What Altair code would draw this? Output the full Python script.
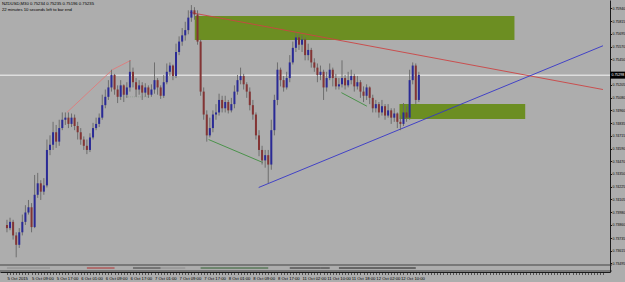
import altair as alt
import pandas as pd

# ---------------- data ----------------
header_lines = ["NZDUSD,M30  0.75234 0.75235 0.75196 0.75235",
                "22 minutes 10 seconds left to bar end"]

time_labels = ["5 Oct 2015", "5 Oct 09:00", "5 Oct 17:00", "6 Oct 01:00", "6 Oct 09:00",
               "6 Oct 17:00", "7 Oct 01:00", "7 Oct 09:00", "7 Oct 17:00", "8 Oct 01:00",
               "8 Oct 09:00", "8 Oct 17:00", "11 Oct 02:00", "11 Oct 10:00", "11 Oct 18:00",
               "12 Oct 02:00", "12 Oct 10:00"]
bars_per_label = 8

# the label under the current-price box is hidden in the reference
price_ticks = [0.73495, 0.73615, 0.73735, 0.73860, 0.73980, 0.74105, 0.74225, 0.74350,
               0.74470, 0.74590, 0.74715, 0.74835, 0.74960, 0.75080, 0.75205,
               0.75450, 0.75570, 0.75695, 0.75815, 0.75940]

current_price = 0.75298
current_label = "0.75298"

first_open = 0.7386
closes = [
    0.7383, 0.7389, 0.7376, 0.7367, 0.7379, 0.7389, 0.7398, 0.7403, 0.7384, 0.7415,
    0.7426, 0.7418, 0.7424, 0.7458, 0.7463, 0.7475, 0.7466, 0.7479, 0.7487, 0.7489,
    0.7483, 0.7489, 0.7481, 0.7475, 0.7468, 0.7462, 0.7458, 0.7470, 0.7479, 0.7483,
    0.7489, 0.7501, 0.7509, 0.7518, 0.7530, 0.7516, 0.7509, 0.7520, 0.7511, 0.7518,
    0.7533, 0.7523, 0.7516, 0.7520, 0.7513, 0.7518, 0.7511, 0.7516, 0.7525, 0.7518,
    0.7510, 0.7523, 0.7533, 0.7539, 0.7529, 0.7552, 0.7562, 0.7568, 0.7573, 0.7585,
    0.7592, 0.7588, 0.7562, 0.7514, 0.7492, 0.7472, 0.7479, 0.7492, 0.7494, 0.7506,
    0.7498, 0.7504, 0.7496, 0.7502, 0.7514, 0.7525, 0.7529, 0.7521, 0.7514, 0.7501,
    0.7492, 0.7472, 0.7458, 0.7448, 0.7453, 0.7444, 0.7477, 0.7506, 0.7535, 0.7525,
    0.7518, 0.7527, 0.7542, 0.7556, 0.7566, 0.7559, 0.7564, 0.7549, 0.7554, 0.7542,
    0.7537, 0.7530, 0.7533, 0.7518, 0.7527, 0.7535, 0.7527, 0.7519, 0.7521, 0.7527,
    0.7520, 0.7525, 0.7529, 0.7519, 0.7523, 0.7514, 0.7510, 0.7518, 0.7508, 0.7498,
    0.7502, 0.7494, 0.7500, 0.7491, 0.7496, 0.7489, 0.7493, 0.7485, 0.7483, 0.7494,
    0.7489, 0.7525, 0.7539, 0.7506, 0.7530]
highs = [
    0.7391, 0.7393, 0.7391, 0.7379, 0.7383, 0.7396, 0.7405, 0.7410, 0.7407, 0.7434,
    0.7436, 0.7429, 0.7431, 0.7468, 0.7472, 0.7485, 0.7482, 0.7487, 0.7494, 0.7494,
    0.7494, 0.7493, 0.7492, 0.7485, 0.7479, 0.7471, 0.7468, 0.7474, 0.7484, 0.7489,
    0.7493, 0.7511, 0.7516, 0.7525, 0.7535, 0.7531, 0.7520, 0.7525, 0.7521, 0.7523,
    0.7544, 0.7537, 0.7527, 0.7525, 0.7523, 0.7522, 0.7520, 0.7521, 0.7542, 0.7527,
    0.7520, 0.7530, 0.7541, 0.7542, 0.7540, 0.7560, 0.7567, 0.7575, 0.7581, 0.7592,
    0.7597, 0.7595, 0.7592, 0.7564, 0.7518, 0.7496, 0.7489, 0.7496, 0.7502, 0.7512,
    0.7510, 0.7510, 0.7506, 0.7508, 0.7520, 0.7530, 0.7537, 0.7531, 0.7523, 0.7518,
    0.7506, 0.7494, 0.7477, 0.7462, 0.7458, 0.7458, 0.7487, 0.7511, 0.7542, 0.7537,
    0.7529, 0.7533, 0.7549, 0.7562, 0.7570, 0.7569, 0.7568, 0.7566, 0.7560, 0.7556,
    0.7546, 0.7541, 0.7539, 0.7535, 0.7533, 0.7541, 0.7537, 0.7531, 0.7527, 0.7544,
    0.7530, 0.7533, 0.7535, 0.7531, 0.7529, 0.7525, 0.7519, 0.7521, 0.7519, 0.7511,
    0.7506, 0.7504, 0.7506, 0.7502, 0.7502, 0.7498, 0.7498, 0.7494, 0.7491, 0.7503,
    0.7500, 0.7535, 0.7542, 0.7541, 0.7533]
lows = [
    0.7379, 0.7381, 0.7372, 0.7355, 0.7364, 0.7376, 0.7386, 0.7396, 0.7379, 0.7383,
    0.7412, 0.7410, 0.7415, 0.7422, 0.7453, 0.7458, 0.7460, 0.7462, 0.7477, 0.7482,
    0.7479, 0.7480, 0.7477, 0.7468, 0.7463, 0.7458, 0.7454, 0.7456, 0.7468, 0.7477,
    0.7480, 0.7487, 0.7498, 0.7506, 0.7514, 0.7511, 0.7503, 0.7506, 0.7504, 0.7508,
    0.7514, 0.7518, 0.7509, 0.7511, 0.7506, 0.7509, 0.7508, 0.7509, 0.7512, 0.7511,
    0.7507, 0.7508, 0.7521, 0.7529, 0.7525, 0.7527, 0.7549, 0.7558, 0.7563, 0.7569,
    0.7581, 0.7583, 0.7559, 0.7510, 0.7487, 0.7466, 0.7470, 0.7475, 0.7487, 0.7491,
    0.7494, 0.7494, 0.7493, 0.7494, 0.7498, 0.7511, 0.7521, 0.7516, 0.7508, 0.7496,
    0.7487, 0.7468, 0.7452, 0.7444, 0.7441, 0.7426, 0.7439, 0.7472, 0.7501, 0.7519,
    0.7514, 0.7516, 0.7523, 0.7540, 0.7552, 0.7554, 0.7552, 0.7544, 0.7544, 0.7537,
    0.7533, 0.7523, 0.7525, 0.7506, 0.7514, 0.7525, 0.7519, 0.7516, 0.7516, 0.7518,
    0.7516, 0.7518, 0.7521, 0.7514, 0.7516, 0.7508, 0.7504, 0.7506, 0.7502, 0.7494,
    0.7494, 0.7489, 0.7491, 0.7487, 0.7489, 0.7483, 0.7485, 0.7479, 0.7477, 0.7481,
    0.7485, 0.7487, 0.7521, 0.7502, 0.7504]

# supply/demand zones (bar index range, price range)
zone_start = [61.1, 127.7]
zone_end = [165.1, 168.6]
zone_top = [0.75865, 0.75021]
zone_bottom = [0.75635, 0.74877]

# drawn trend lines (segments in bar index / price)
seg_x0 = [59.5, 81.9, 19.5, 34.3, 65.6, 108.8]
seg_p0 = [0.7590, 0.7422, 0.7494, 0.7535, 0.7468, 0.7513]
seg_x1 = [193.9, 193.9, 34.3, 40.3, 83.2, 117.1]
seg_p1 = [0.7516, 0.7558, 0.7535, 0.7544, 0.7446, 0.7500]
seg_color = ["#cc4444", "#3535c8", "#e07a7a", "#e07a7a", "#3f8f3f", "#3f8f3f"]

dot_x0, dot_x1, dot_p = [38.7], [46.4], [0.7509]

# indicator sub-window segments
strip_start = [0, 26, 41, 50, 63, 92, 102, 108]
strip_end = [14, 35, 50, 58, 85, 102, 105, 133]
strip_color = ["#8c8c8c", "#b03030", "#3c3c3c", "#8c8c8c", "#2f5f2f", "#2a2a2a", "#2a2a2a", "#1e1e1e"]

# ---------------- build ----------------
FONT = "Liberation Sans"
opens = [first_open] + closes[:-1]
candles = pd.DataFrame({
    "bar": list(range(len(closes))), "open": opens, "high": highs,
    "low": lows, "close": closes,
})
candles["dir"] = ["up" if c >= o else "down" for o, c in zip(opens, closes)]

arr = "[" + ",".join("'%s'" % t for t in time_labels) + "]"
label_expr = (f"(datum.value % {bars_per_label} == 0 && datum.value / {bars_per_label} < {len(time_labels)})"
              f" ? {arr}[datum.value / {bars_per_label}] : ''")

xscale = alt.Scale(domain=[-0.64, 194.56], nice=False, zero=False)
xaxis = alt.Axis(values=list(range(0, 195)), labelExpr=label_expr, title=None,
                 labelFont=FONT, labelFontSize=4.2, labelColor="black", labelAlign="left",
                 labelBaseline="top", labelPadding=2, labelOverlap=False, labelFlush=False,
                 labelBound=False, tickSize=2.5, tickColor="#3a3a3a", tickWidth=0.8,
                 domainColor="#1a1a1a", grid=False)
yscale = alt.Scale(domain=[0.73409, 0.76019], nice=False, zero=False)
yaxis = alt.Axis(orient="right", values=price_ticks, format=".5f", title=None,
                 labelFont=FONT, labelFontSize=3.5, labelColor="black", labelPadding=0.5,
                 labelOverlap=False, tickSize=1.5, tickColor="#1a1a1a", domainColor="#1a1a1a",
                 grid=False)


def X(field):
    return alt.X(field, type="quantitative", scale=xscale, axis=xaxis)


def Y(field):
    return alt.Y(field, type="quantitative", scale=yscale, axis=yaxis)


cur_df = pd.DataFrame({"price": [current_price], "label": [current_label]})
cur_line = alt.Chart(cur_df).mark_rule(color="#dedede", strokeWidth=1.5).encode(
    x=alt.value(0), x2=alt.value(610), y=Y("price"))

zones = alt.Chart(pd.DataFrame({"bar": zone_start, "bar2": zone_end,
                                "top": zone_top, "bottom": zone_bottom})).mark_rect(
    color="#6c8e22").encode(x=X("bar"), x2="bar2", y=Y("top"), y2="bottom")

segs = alt.Chart(pd.DataFrame({"bar": seg_x0, "bar2": seg_x1, "p0": seg_p0,
                               "p1": seg_p1, "c": seg_color})).mark_rule(strokeWidth=0.9).encode(
    x=X("bar"), x2="bar2", y=Y("p0"), y2="p1", color=alt.Color("c:N", scale=None))

dots = alt.Chart(pd.DataFrame({"bar": dot_x0, "bar2": dot_x1, "p": dot_p})).mark_rule(
    color="#8fa08f", strokeWidth=0.8, strokeDash=[1, 1]).encode(
    x=X("bar"), x2="bar2", y=Y("p"))

wicks = alt.Chart(candles).mark_rule(color="#666666", strokeWidth=0.9).encode(
    x=X("bar"), y=Y("low"), y2="high")

bodies = alt.Chart(candles).mark_bar(size=2).encode(
    x=X("bar"), y=Y("open"), y2="close",
    color=alt.Color("dir:N", scale=alt.Scale(domain=["up", "down"], range=["#2a2a96", "#833434"]),
                    legend=None))

box = alt.Chart(cur_df).mark_rect(color="black", yOffset=-3.5, y2Offset=3.5).encode(
    x=alt.value(610), x2=alt.value(625), y=Y("price"), y2="price")
box_text = alt.Chart(cur_df).mark_text(align="left", baseline="middle", font=FONT,
                                       fontSize=3.5, color="white").encode(
    x=alt.value(611.5), y=Y("price"), text="label:N")

hdr = alt.Chart(pd.DataFrame({"t": header_lines, "row": [0, 1]})).mark_text(
    align="left", baseline="middle", font=FONT, fontSize=4.2, color="black").encode(
    x=alt.value(2),
    y=alt.Y("row:Q", scale=alt.Scale(domain=[0, 1], range=[4, 9.5], nice=False, zero=False),
            axis=None),
    text="t:N")

main = alt.layer(cur_line, zones, segs, dots, wicks, bodies, box, box_text)

sscale = alt.Scale(domain=[0, 1], range=[271, 265], nice=False, zero=False)
strip_borders = alt.Chart(pd.DataFrame({"v": [0, 1]})).mark_rule(
    color="#2a2a2a", strokeWidth=0.8).encode(
    x=alt.value(0), x2=alt.value(612),
    y=alt.Y("v:Q", scale=sscale, axis=None))
strip_lines = alt.Chart(pd.DataFrame({"bar": strip_start, "bar2": strip_end,
                                      "v": [0.5] * len(strip_start), "c": strip_color})).mark_rule(
    strokeWidth=1).encode(
    x=X("bar"), x2="bar2", y=alt.Y("v:Q", scale=sscale, axis=None),
    color=alt.Color("c:N", scale=None))
strip = alt.layer(strip_borders, strip_lines)

chart = alt.layer(main, strip, hdr).resolve_scale(y="independent").properties(
    width=610, height=272,
    padding={"left": 0, "top": 0, "right": 15, "bottom": 10},
    autosize=alt.AutoSizeParams(type="none"),
    background="#adadad",
).configure_view(stroke=None)

chart.save("out.html", embed_options={"renderer": "svg", "actions": False})
